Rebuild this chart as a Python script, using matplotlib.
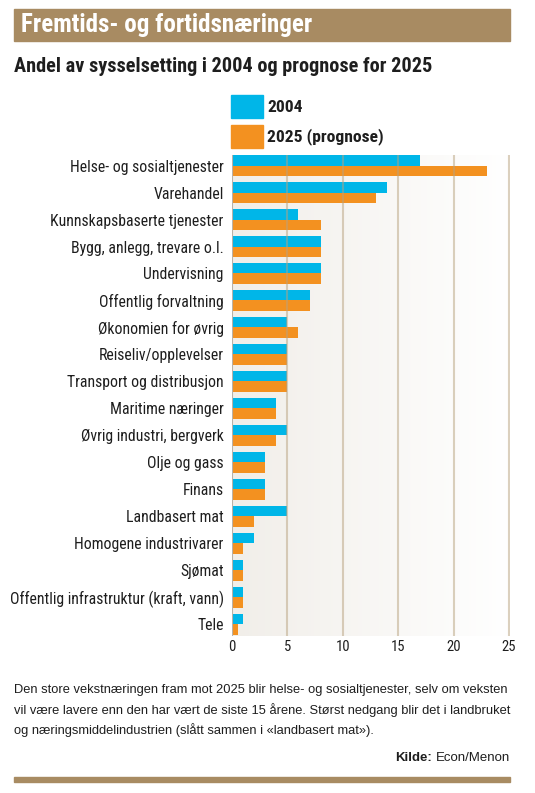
import numpy as np
import matplotlib.pyplot as plt
from matplotlib.colors import LinearSegmentedColormap

plt.rcParams['font.family'] = ['Roboto Condensed', 'Archivo Narrow', 'DejaVu Sans']

categories = ['Helse- og sosialtjenester', 'Varehandel', 'Kunnskapsbaserte tjenester',
              'Bygg, anlegg, trevare o.l.', 'Undervisning', 'Offentlig forvaltning',
              'Økonomien for øvrig', 'Reiseliv/opplevelser', 'Transport og distribusjon',
              'Maritime næringer', 'Øvrig industri, bergverk', 'Olje og gass', 'Finans',
              'Landbasert mat', 'Homogene industrivarer', 'Sjømat',
              'Offentlig infrastruktur (kraft, vann)', 'Tele']
v2004 = [17, 14, 6, 8, 8, 7, 5, 5, 5, 4, 5, 3, 3, 5, 2, 1, 1, 1]
v2025 = [23, 13, 8, 8, 8, 7, 6, 5, 5, 4, 4, 3, 3, 2, 1, 1, 1, 0.5]
xticks = [0, 5, 10, 15, 20, 25]

tan = '#A88B62'
blue = '#00B6E8'
orange = '#F39120'
ink = '#1E1E1E'
plain = ['Liberation Sans', 'DejaVu Sans']

W, H = 535, 793
fig = plt.figure(figsize=(W / 100, H / 100), dpi=100)

def fx(px):
    return px / W

def fy(py):
    return 1 - py / H

# header bar
fig.patches.append(plt.Rectangle((fx(14), fy(41)), fx(496), 32 / H, transform=fig.transFigure,
                                 color=tan, zorder=0))
fig.text(fx(21), fy(25), 'Fremtids- og fortidsnæringer', color='white', fontsize=18,
         fontweight='bold', va='center')
fig.text(fx(14), fy(66), 'Andel av sysselsetting i 2004 og prognose for 2025', color=ink,
         fontsize=14.6, fontweight='bold', va='center')

# legend
fig.patches.append(plt.Rectangle((fx(231), fy(118)), fx(32), 23 / H, transform=fig.transFigure, color=blue))
fig.patches.append(plt.Rectangle((fx(231), fy(148)), fx(32), 23 / H, transform=fig.transFigure, color=orange))
fig.text(fx(267), fy(107), '2004', fontsize=12.6, fontweight='bold', va='center', color=ink)
fig.text(fx(267), fy(137), '2025 (prognose)', fontsize=12.6, fontweight='bold', va='center', color=ink)

# plot
ax = fig.add_axes([fx(232), fy(636), fx(510 - 232), (636 - 155) / H])
y = np.arange(len(categories))
bh = 0.39
ax.barh(y - bh / 2, v2004, height=bh, color=blue, zorder=2)
ax.barh(y + bh / 2, v2025, height=bh, color=orange, zorder=2)
ylo, yhi = len(categories) - 0.57, -0.39
ax.set_ylim(ylo, yhi)
ax.set_xlim(0, 25.1)

grad = np.linspace(0, 1, 256).reshape(1, -1)
ax.imshow(grad, extent=[0, 25, ylo, yhi], aspect='auto',
          cmap=LinearSegmentedColormap.from_list('bg', ['#F1EEE9', '#FFFFFF']), zorder=0)

for xv in xticks[1:]:
    ax.axvline(xv, color='#B8A27E', lw=1.5, alpha=0.5, zorder=3)
ax.axvline(0, color='#B9B2A8', lw=1.5, zorder=3)

for s in ax.spines.values():
    s.set_visible(False)
ax.set_yticks(y)
ax.set_yticklabels(categories, fontsize=11.3, color=ink)
ax.set_xticks(xticks)
ax.set_xticklabels([str(t) for t in xticks], fontsize=10.5, color=ink)
ax.tick_params(length=0, pad=3)
ax.tick_params(axis='y', pad=6)

# footnote
foot = ['Den store vekstnæringen fram mot 2025 blir helse- og sosialtjenester, selv om veksten',
        'vil være lavere enn den har vært de siste 15 årene. Størst nedgang blir det i landbruket',
        'og næringsmiddelindustrien (slått sammen i «landbasert mat»).']
for i, line in enumerate(foot):
    fig.text(fx(14), fy(690 + i * 20), line, fontsize=9.3, family=plain, va='center', color=ink)

src = fig.text(fx(510), fy(758), 'Econ/Menon', fontsize=9.5, family=plain, va='center', ha='right', color=ink)
fig.canvas.draw()
bb = src.get_window_extent()
fig.text(fx(bb.x0 - 4), fy(758), 'Kilde:', fontsize=9.5, family=plain, va='center', ha='right',
         fontweight='bold', color=ink)

fig.patches.append(plt.Rectangle((fx(14), fy(782)), fx(496), 5 / H, transform=fig.transFigure,
                                 color=tan, zorder=0))

fig.savefig('out.png', dpi=100, facecolor='white')
